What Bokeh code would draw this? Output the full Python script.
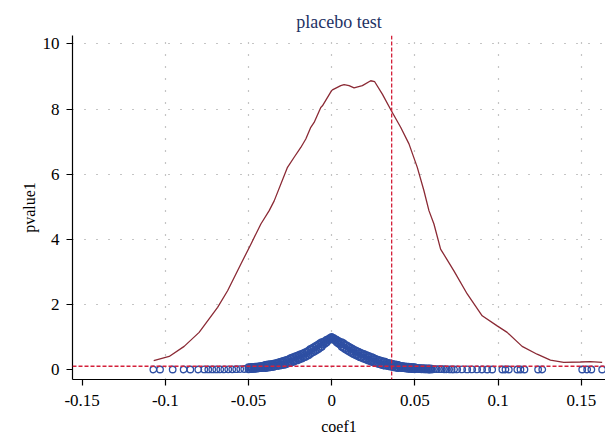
from bokeh.plotting import figure
from bokeh.models import Range1d, FixedTicker, Span, ColumnDataSource
from bokeh.embed import file_html
from bokeh.resources import INLINE

# ---------------- data ----------------
# kernel density of coef1 (dark red curve)
kd_coef = [-0.1070, -0.0977, -0.0887, -0.0797, -0.0686, -0.0626, -0.0546, -0.0486,
           -0.0426, -0.0376, -0.0346, -0.0266, -0.0226, -0.0186, -0.0156, -0.0126,
           -0.0106, -0.0066, -0.0056, -0.0002, 0.0004, 0.0054, 0.0074, 0.0104,
           0.0134, 0.0184, 0.0234, 0.0258, 0.0304, 0.0358, 0.0414, 0.0464,
           0.0514, 0.0554, 0.0584, 0.0614, 0.0654, 0.0734, 0.0814, 0.0904,
           0.0994, 0.1054, 0.1144, 0.1234, 0.1314, 0.1394, 0.1494, 0.1554, 0.1625]
kd_dens = [0.27, 0.40, 0.71, 1.14, 1.91, 2.42, 3.24, 3.85,
           4.47, 4.88, 5.18, 6.21, 6.52, 6.82, 7.08, 7.44,
           7.59, 8.05, 8.10, 8.56, 8.59, 8.72, 8.75, 8.72,
           8.65, 8.72, 8.87, 8.84, 8.46, 7.95, 7.44, 6.93,
           6.21, 5.49, 4.88, 4.47, 3.70, 3.03, 2.32, 1.65,
           1.34, 1.14, 0.71, 0.47, 0.29, 0.22, 0.23, 0.24, 0.22]

# dense band of placebo estimates (coef1, pvalue1): upper and lower rows
band_coef = [-0.050, -0.049, -0.048, -0.047, -0.046, -0.045, -0.044, -0.043, -0.042, -0.041,
             -0.040, -0.039, -0.038, -0.037, -0.036, -0.035, -0.034, -0.033, -0.032, -0.031,
             -0.030, -0.029, -0.028, -0.027, -0.026, -0.025, -0.024, -0.023, -0.022, -0.021,
             -0.020, -0.019, -0.018, -0.017, -0.016, -0.015, -0.014, -0.013, -0.012, -0.011,
             -0.010, -0.009, -0.008, -0.007, -0.006, -0.005, -0.004, -0.003, -0.002, -0.001,
             0.000,
             0.001, 0.002, 0.003, 0.004, 0.005, 0.006, 0.007, 0.008, 0.009, 0.010,
             0.011, 0.012, 0.013, 0.014, 0.015, 0.016, 0.017, 0.018, 0.019, 0.020,
             0.021, 0.022, 0.023, 0.024, 0.025, 0.026, 0.027, 0.028, 0.029, 0.030,
             0.031, 0.032, 0.033, 0.034, 0.035, 0.036, 0.037, 0.038, 0.039, 0.040,
             0.041, 0.042, 0.043, 0.044, 0.045, 0.046, 0.047, 0.048, 0.049, 0.050,
             0.051, 0.052, 0.053, 0.054, 0.055, 0.056, 0.057, 0.058, 0.059, 0.060]
band_p_hi = [0.067, 0.071, 0.075, 0.079, 0.084, 0.089, 0.095, 0.101, 0.108, 0.115,
             0.137, 0.145, 0.155, 0.160, 0.165, 0.175, 0.188, 0.200, 0.218, 0.230,
             0.245, 0.260, 0.275, 0.290, 0.310, 0.340, 0.360, 0.380, 0.400, 0.420,
             0.440, 0.460, 0.480, 0.500, 0.525, 0.550, 0.575, 0.620, 0.650, 0.680,
             0.710, 0.740, 0.770, 0.805, 0.840, 0.845, 0.880, 0.915, 0.930, 0.970,
             1.000,
             0.970, 0.930, 0.915, 0.880, 0.845, 0.840, 0.805, 0.770, 0.740, 0.710,
             0.680, 0.650, 0.620, 0.595, 0.570, 0.545, 0.520, 0.500, 0.480, 0.460,
             0.440, 0.420, 0.400, 0.380, 0.360, 0.330, 0.310, 0.295, 0.280, 0.265,
             0.250, 0.238, 0.210, 0.198, 0.185, 0.175, 0.165, 0.155, 0.145, 0.137,
             0.115, 0.108, 0.101, 0.095, 0.089, 0.084, 0.079, 0.075, 0.071, 0.067,
             0.049, 0.046, 0.043, 0.040, 0.038, 0.036, 0.034, 0.032, 0.030, 0.028]
band_p_lo = [0.007, 0.011, 0.015, 0.019, 0.024, 0.029, 0.035, 0.041, 0.048, 0.055,
             0.047, 0.055, 0.065, 0.070, 0.075, 0.085, 0.098, 0.110, 0.115, 0.125,
             0.135, 0.145, 0.155, 0.170, 0.190, 0.200, 0.220, 0.240, 0.260, 0.280,
             0.300, 0.320, 0.340, 0.360, 0.385, 0.410, 0.435, 0.480, 0.510, 0.540,
             0.570, 0.600, 0.630, 0.665, 0.700, 0.765, 0.800, 0.835, 0.890, 0.930,
             0.960,
             0.930, 0.890, 0.835, 0.800, 0.765, 0.700, 0.665, 0.630, 0.600, 0.570,
             0.540, 0.510, 0.480, 0.455, 0.430, 0.405, 0.380, 0.360, 0.340, 0.320,
             0.300, 0.280, 0.260, 0.240, 0.220, 0.210, 0.190, 0.175, 0.160, 0.145,
             0.130, 0.118, 0.120, 0.108, 0.095, 0.085, 0.075, 0.065, 0.055, 0.047,
             0.055, 0.048, 0.041, 0.035, 0.029, 0.024, 0.019, 0.015, 0.011, 0.007,
             0.019, 0.016, 0.013, 0.010, 0.008, 0.006, 0.004, 0.002, 0.001, 0.000]

# sparse estimates in the tails (p-value close to zero)
tail_coef = [-0.1072, -0.1032, -0.0956, -0.0890, -0.0850, -0.0802, -0.0766, -0.0742,
             -0.0718, -0.0694, -0.0670, -0.0646, -0.0622, -0.0598, -0.0574, -0.0550,
             -0.0526, 0.0615, 0.0630, 0.0645, 0.0660, 0.0675, 0.0690, 0.0705, 0.0720,
             0.0735, 0.0754, 0.0784, 0.0814, 0.0844, 0.0874, 0.0904, 0.0934, 0.0964,
             0.1025, 0.1044, 0.1064, 0.1115, 0.1134, 0.1158, 0.1240, 0.1265, 0.1505,
             0.1535, 0.1560, 0.1625]
tail_p = [0.000, 0.000, 0.000, 0.000, 0.000, 0.000, 0.001, 0.001,
          0.002, 0.002, 0.003, 0.004, 0.005, 0.007, 0.009, 0.012,
          0.015, 0.014, 0.012, 0.010, 0.009, 0.008, 0.006, 0.005, 0.004,
          0.003, 0.002, 0.002, 0.001, 0.001, 0.001, 0.000, 0.000, 0.000,
          0.000, 0.000, 0.000, 0.000, 0.000, 0.000, 0.000, 0.000, 0.000,
          0.000, 0.000, 0.000]

true_coef = 0.036      # vertical dashed reference line
p_threshold = 0.1      # horizontal dashed reference line

x_ticks = [-0.15, -0.1, -0.05, 0, 0.05, 0.1, 0.15]
x_tick_labels = ["-0.15", "-0.1", "-0.05", "0", "0.05", "0.1", "0.15"]
y_ticks = [0, 2, 4, 6, 8, 10]
x_grid_ticks = [-0.1, -0.05, 0, 0.05, 0.1, 0.15]
y_grid_ticks = [2, 4, 6, 8, 10]

# ---------------- styling ----------------
FONT = "Liberation Serif"
BLUE = "#2e4fa3"
MAROON = "#8b2a35"
RED = "#d4203a"

X0, X1 = -0.1558, 0.1645
Y0, Y1 = -0.307, 10.26

p = figure(width=605, height=438,
           x_range=Range1d(X0, X1), y_range=Range1d(Y0, Y1),
           output_backend="svg", toolbar_location=None,
           min_border_left=72, min_border_right=0, min_border_top=35, min_border_bottom=59,
           title="placebo test")
p.outline_line_color = None
p.background_fill_color = "white"
p.border_fill_color = "white"

p.title.align = "center"
p.title.text_font = FONT
p.title.text_font_size = "18px"
p.title.text_font_style = "normal"
p.title.text_color = "#1e3264"
p.title.standoff = 8

for ax in (p.xaxis[0], p.yaxis[0]):
    ax.axis_line_color = "black"
    ax.axis_line_width = 1.2
    ax.major_tick_line_color = "black"
    ax.major_tick_line_width = 1.2
    ax.major_tick_out = 6
    ax.major_tick_in = 0
    ax.minor_tick_out = 0
    ax.minor_tick_in = 0
    ax.major_label_text_font = FONT
    ax.major_label_text_font_size = "17px"
    ax.major_label_text_color = "black"
    ax.axis_label_text_font = FONT
    ax.axis_label_text_font_size = "16px"
    ax.axis_label_text_font_style = "normal"
    ax.axis_label_text_color = "black"

p.xaxis.ticker = FixedTicker(ticks=x_ticks)
p.xaxis.major_label_overrides = {t: s for t, s in zip(x_ticks, x_tick_labels)}
p.xaxis.axis_label = "coef1"
p.xaxis.major_label_standoff = 9
p.xaxis.axis_label_standoff = 9

p.yaxis.ticker = FixedTicker(ticks=y_ticks)
p.yaxis.axis_label = "pvalue1"
p.yaxis.major_label_standoff = 7
p.yaxis.axis_label_standoff = 2
p.yaxis.major_label_orientation = "horizontal"

p.xgrid.ticker = FixedTicker(ticks=x_grid_ticks)
p.ygrid.ticker = FixedTicker(ticks=y_grid_ticks)
for g in (p.xgrid[0], p.ygrid[0]):
    g.grid_line_color = "#8a8a8a"
    g.grid_line_width = 1.2
    g.grid_line_dash = "1 11"

# density curve
p.line(kd_coef, kd_dens, line_color=MAROON, line_width=1.3)

# scatter of estimates
band_src = ColumnDataSource(dict(c=band_coef, hi=band_p_hi, lo=band_p_lo))
for col in ("hi", "lo"):
    p.scatter("c", col, source=band_src, marker="circle", size=6.5, fill_color=None,
              line_color=BLUE, line_width=1.4)
p.scatter(tail_coef, tail_p, marker="circle", size=6.5, fill_color=None,
          line_color=BLUE, line_width=1.3)

# reference lines
p.add_layout(Span(location=true_coef, dimension="height", line_color=RED,
                  line_width=1.3, line_dash="4 2"))
p.add_layout(Span(location=p_threshold, dimension="width", line_color=RED,
                  line_width=1.3, line_dash="4 2"))

open("out.html", "w").write(file_html(p, INLINE))
